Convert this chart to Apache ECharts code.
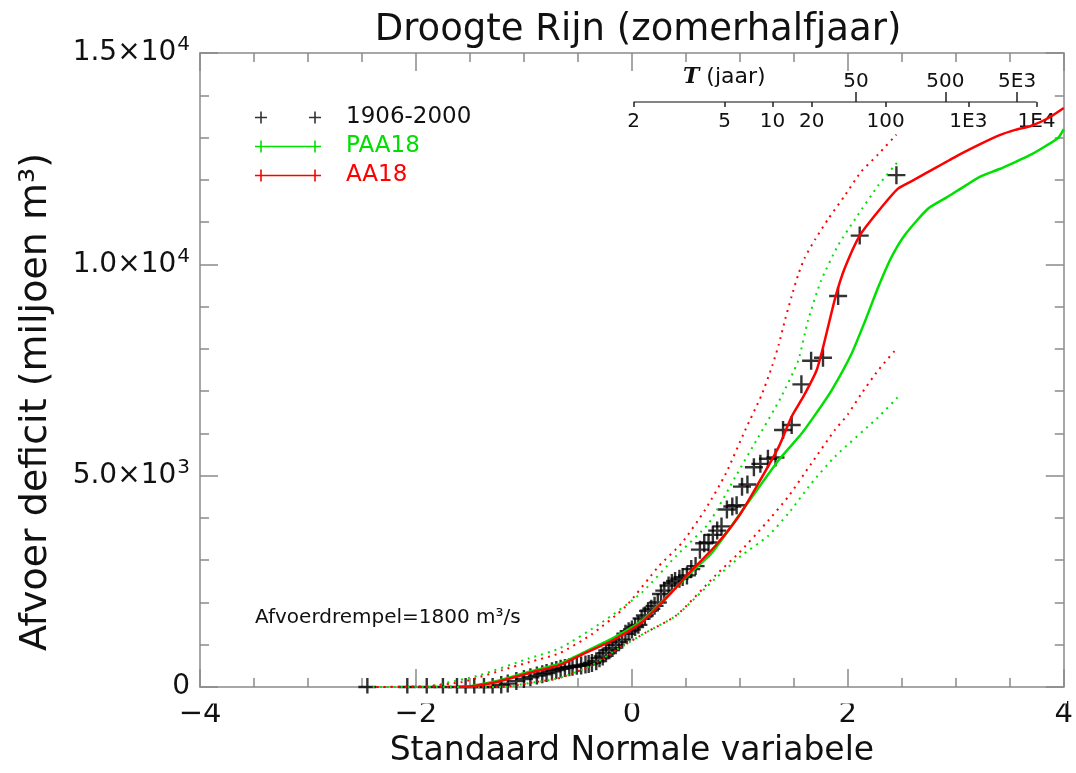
<!DOCTYPE html>
<html lang="nl">
<head>
<meta charset="utf-8">
<title>Droogte Rijn (zomerhalfjaar)</title>
<script src="https://cdn.jsdelivr.net/npm/echarts@6/dist/echarts.min.js"></script>
<style>
  html, body { margin: 0; padding: 0; background: #fff; }
  #main { width: 1076px; height: 773px; }
</style>
</head>
<body>
<div id="main"></div>
<script>
// waarnemingen 1906-2000 (standaard normale variabele, afvoerdeficit in miljoen m3)
var obs = [
  [-2.45,0],[-2.08,0],[-1.90,0],[-1.75,0],[-1.62,0],[-1.54,0],[-1.46,0],[-1.37,0],[-1.29,0],
  [-1.21,50],[-1.15,80],[-1.07,140],[-1.00,190],[-0.94,230],[-0.88,270],[-0.83,300],[-0.79,330],
  [-0.74,370],[-0.70,400],[-0.66,430],[-0.62,450],[-0.58,470],[-0.55,480],[-0.51,500],[-0.47,510],
  [-0.43,530],[-0.40,545],[-0.37,570],[-0.33,610],[-0.30,680],[-0.27,720],[-0.24,800],[-0.21,870],
  [-0.18,920],[-0.15,990],[-0.12,1060],[-0.09,1120],[-0.06,1260],[-0.03,1320],[0.00,1360],
  [0.03,1420],[0.06,1470],[0.09,1620],[0.12,1690],[0.15,1800],[0.18,1850],[0.21,1920],[0.24,2000],
  [0.27,2200],[0.30,2280],[0.34,2400],[0.37,2460],[0.40,2510],[0.44,2560],[0.47,2600],[0.51,2640],
  [0.55,2790],[0.59,2860],[0.63,3250],[0.67,3400],[0.71,3420],[0.75,3600],[0.79,3700],[0.83,3800],
  [0.88,4200],[0.93,4270],[0.97,4300],[1.02,4740],[1.07,4790],[1.13,5200],[1.19,5280],[1.26,5400],
  [1.33,5430],[1.40,6080],[1.48,6200],[1.57,7160],[1.66,7720],[1.77,7790],[1.91,9250],[2.11,10680],
  [2.45,12110]
];

var aa18 = [
  [-1.60,0],[-1.50,10],[-1.25,117],[-0.95,330],[-0.67,516],[-0.42,820],[-0.18,1100],[0.09,1525],
  [0.34,2160],[0.55,2750],[0.77,3330],[0.99,4040],[1.17,4810],[1.36,5680],[1.48,6400],[1.59,6880],
  [1.71,7490],[1.77,8030],[1.83,8660],[1.89,9270],[1.97,9900],[2.11,10680],[2.28,11250],[2.46,11780],
  [2.60,11980],[2.74,12180],[3.00,12550],[3.24,12860],[3.40,13050],[3.55,13180],[3.70,13280],
  [3.85,13450],[4.00,13700]
];
var aa18Upper = [
  [-2.40,0],[-1.90,20],[-1.57,117],[-1.41,235],[-1.20,400],[-0.95,590],[-0.67,800],[-0.37,1250],
  [-0.06,1900],[0.25,2860],[0.46,3400],[0.68,4200],[0.87,5050],[1.05,6080],[1.20,6900],[1.30,7600],
  [1.36,8100],[1.42,8700],[1.48,9250],[1.54,9750],[1.60,10150],[1.70,10600],[1.82,11080],[1.97,11620],
  [2.12,12180],[2.28,12600],[2.45,13070]
];
var aa18Lower = [
  [-2.40,0],[-1.20,0],[-0.95,94],[-0.67,211],[-0.37,516],[-0.12,915],[0.13,1290],[0.41,1690],
  [0.77,2630],[0.99,3170],[1.24,3870],[1.45,4510],[1.66,5280],[1.88,6080],[2.00,6450],[2.12,6920],
  [2.28,7490],[2.46,8030]
];

var paa18 = [
  [-1.60,0],[-1.50,20],[-1.25,140],[-0.95,360],[-0.67,550],[-0.42,850],[-0.18,1150],[0.09,1560],
  [0.34,2180],[0.55,2720],[0.74,3170],[1.05,4270],[1.36,5370],[1.57,5990],[1.70,6450],[1.85,7020],
  [2.03,7860],[2.16,8660],[2.28,9450],[2.40,10150],[2.53,10700],[2.74,11310],[2.92,11590],
  [3.10,11880],[3.24,12090],[3.40,12250],[3.55,12420],[3.70,12600],[3.84,12810],[3.95,13000],[4.00,13200]
];
var paa18Upper = [
  [-1.90,0],[-1.72,94],[-1.41,280],[-0.95,680],[-0.67,915],[-0.28,1525],[0.09,2230],[0.41,3100],
  [0.71,3870],[0.96,4980],[1.17,5910],[1.38,6850],[1.54,7720],[1.63,8660],[1.75,9600],[1.91,10450],
  [2.07,11080],[2.28,11860],[2.46,12420]
];
var paa18Lower = [
  [-2.40,0],[-1.20,0],[-0.95,94],[-0.67,211],[-0.37,516],[-0.12,915],[0.13,1290],[0.41,1690],
  [0.77,2560],[1.01,3100],[1.26,3570],[1.45,4110],[1.66,4810],[1.88,5450],[2.28,6380],[2.46,6850]
];

// terugkeertijd-as (T in jaar)
var tBottom = [2, 5, 10, 20, 100, 1000, 10000];
var tBottomLabels = ['2', '5', '10', '20', '100', '1E3', '1E4'];
var tTop = [50, 500, 5000];
var tTopLabels = ['50', '500', '5E3'];

// y-as labels
var yTicks = [0, 5000, 10000, 15000];
var yTickLabels = ['{a|0}', '{a|5.0×10}{s|3}', '{a|1.0×10}{s|4}', '{a|1.5×10}{s|4}'];

// inverse standaard normale verdeling (Acklam)
function probit(p) {
  var a = [-3.969683028665376e+01, 2.209460984245205e+02, -2.759285104469687e+02, 1.383577518672690e+02, -3.066479806614716e+01, 2.506628277459239e+00];
  var b = [-5.447609879822406e+01, 1.615858368580409e+02, -1.556989798598866e+02, 6.680131188771972e+01, -1.328068155288572e+01];
  var c = [-7.784894002430293e-03, -3.223964580411365e-01, -2.400758277161838e+00, -2.549732539343734e+00, 4.374664141464968e+00, 2.938163982698783e+00];
  var d = [7.784695709041462e-03, 3.224671290700398e-01, 2.445134137142996e+00, 3.754408661907416e+00];
  var pl = 0.02425, q, r;
  if (p < pl) {
    q = Math.sqrt(-2 * Math.log(p));
    return (((((c[0]*q+c[1])*q+c[2])*q+c[3])*q+c[4])*q+c[5]) / ((((d[0]*q+d[1])*q+d[2])*q+d[3])*q+1);
  }
  if (p <= 1 - pl) {
    q = p - 0.5; r = q * q;
    return (((((a[0]*r+a[1])*r+a[2])*r+a[3])*r+a[4])*r+a[5])*q / (((((b[0]*r+b[1])*r+b[2])*r+b[3])*r+b[4])*r+1);
  }
  q = Math.sqrt(-2 * Math.log(1 - p));
  return -(((((c[0]*q+c[1])*q+c[2])*q+c[3])*q+c[4])*q+c[5]) / ((((d[0]*q+d[1])*q+d[2])*q+d[3])*q+1);
}
function tToZ(T) { return probit(1 - 1 / T); }

var zBottom = tBottom.map(tToZ);
var zTop = tTop.map(tToZ);
function labelFor(zs, labels) {
  return function (v) {
    for (var i = 0; i < zs.length; i++) {
      if (Math.abs(zs[i] - v) < 1e-6) return labels[i];
    }
    return '';
  };
}

var FONT = 'DejaVu Sans';
var FRAME = '#8a8a8a';
var RED = '#ff0000';
var GREEN = '#00e000';

var frameAxis = {
  axisLine: { show: true, onZero: false, lineStyle: { color: FRAME, width: 1.5 } },
  axisTick: { show: true, inside: true, length: 18, lineStyle: { color: FRAME, width: 1.5 } },
  minorTick: { show: true, length: 9, lineStyle: { color: FRAME, width: 1.5 } },
  splitLine: { show: false }
};

function ext(base, more) { return Object.assign({}, base, more); }

// legenda-iconen: plusjes aan de uiteinden, met een onzichtbaar puntje rechts voor extra ruimte tot de tekst
var ICON_PLUS = 'path://M0,5.2h12v1.6h-12z M5.2,0h1.6v12h-1.6z M54,5.2h12v1.6h-12z M59.2,0h1.6v12h-1.6z M85.99,6h0.01v0.01h-0.01z';
var ICON_LINE = 'path://M0,5.2h66v1.6h-66z M5.2,0h1.6v12h-1.6z M59.2,0h1.6v12h-1.6z M85.99,6h0.01v0.01h-0.01z';

var chart = echarts.init(document.getElementById('main'));

var option = {
  backgroundColor: '#fff',
  animation: false,
  textStyle: { fontFamily: FONT },
  title: {
    text: 'Droogte Rijn (zomerhalfjaar)',
    left: 633, top: 7, textAlign: 'center',
    textStyle: { fontFamily: FONT, fontSize: 37, fontWeight: 'normal', color: '#111' }
  },
  legend: {
    orient: 'vertical',
    left: 250, top: 101,
    itemWidth: 86, itemHeight: 12, itemGap: 6,
    textStyle: { fontFamily: FONT, fontSize: 23 },
    itemStyle: { borderWidth: 0 },
    lineStyle: { width: 0 },
    data: [
      { name: '1906-2000', icon: ICON_PLUS, textStyle: { color: '#111' } },
      { name: 'PAA18', icon: ICON_LINE, textStyle: { color: GREEN } },
      { name: 'AA18', icon: ICON_LINE, textStyle: { color: RED } }
    ]
  },
  grid: [
    { left: 200, right: 9, top: 53, bottom: 81, show: false },
    { left: 200, right: 9, top: 102, height: 0, show: false }
  ],
  xAxis: [
    ext(frameAxis, {
      gridIndex: 0, type: 'value', min: -4, max: 4, interval: 2, position: 'bottom',
      minorTick: ext(frameAxis.minorTick, { splitNumber: 4 }),
      axisLabel: {
        color: '#111', fontSize: 29, margin: 13,
        formatter: function (v) { return v < 0 ? '\u2212' + (-v) : String(v); }
      },
      name: 'Standaard Normale variabele',
      nameLocation: 'middle', nameGap: 48,
      nameTextStyle: { color: '#111', fontSize: 33 }
    }),
    ext(frameAxis, {
      gridIndex: 0, type: 'value', min: -4, max: 4, interval: 2, position: 'top',
      minorTick: ext(frameAxis.minorTick, { splitNumber: 4 }),
      axisLabel: { show: false }
    }),
    {
      gridIndex: 1, type: 'value', min: -4, max: 4, position: 'bottom',
      axisLine: { show: false }, splitLine: { show: false },
      axisTick: { show: true, customValues: zBottom, length: 5, lineStyle: { color: '#222', width: 1.5 } },
      axisLabel: { customValues: zBottom, formatter: labelFor(zBottom, tBottomLabels), color: '#111', fontSize: 20, margin: 10 }
    },
    {
      gridIndex: 1, type: 'value', min: -4, max: 4, position: 'top',
      axisLine: { show: false }, splitLine: { show: false },
      axisTick: { show: true, customValues: zTop, length: 10, lineStyle: { color: '#222', width: 1.5 } },
      axisLabel: { customValues: zTop, formatter: labelFor(zTop, tTopLabels), color: '#111', fontSize: 20, margin: 10 }
    }
  ],
  yAxis: [
    ext(frameAxis, {
      gridIndex: 0, type: 'value', min: 0, max: 15000, interval: 5000, position: 'left',
      minorTick: ext(frameAxis.minorTick, { splitNumber: 5 }),
      axisLabel: {
        margin: 10,
        formatter: function (v) { return yTickLabels[yTicks.indexOf(v)]; },
        rich: {
          a: { fontFamily: FONT, fontSize: 28, color: '#111' },
          s: { fontFamily: FONT, fontSize: 20, color: '#111', verticalAlign: 'top', padding: [0, 0, 16, 1] }
        }
      }
    }),
    ext(frameAxis, {
      gridIndex: 0, type: 'value', min: 0, max: 15000, interval: 5000, position: 'right',
      minorTick: ext(frameAxis.minorTick, { splitNumber: 5 }),
      axisLabel: { show: false }
    }),
    { gridIndex: 1, type: 'value', min: 0, max: 1, show: false }
  ],
  graphic: [
    {
      // y-astitel
      type: 'text', x: 36, y: 402, rotation: Math.PI / 2,
      style: {
        text: 'Afvoer deficit (miljoen m\u00b3)', fill: '#111',
        font: '38px "DejaVu Sans"', align: 'center', verticalAlign: 'middle'
      }
    },
    {
      type: 'text', left: 683, top: 66,
      style: {
        text: '{i|T} (jaar)',
        fill: '#111',
        font: '22px "DejaVu Sans"',
        rich: { i: { fontFamily: 'DejaVu Serif', fontStyle: 'italic', fontWeight: 'bold', fontSize: 22, fill: '#111' } }
      }
    },
    {
      type: 'text', left: 255, top: 608,
      style: { text: 'Afvoerdrempel=1800 m\u00b3/s', fill: '#111', font: '20px "DejaVu Sans"' }
    },
    {
      // onderste helft van de plusjes op de x-as afdekken, zoals in het origineel
      type: 'rect', z: 100, silent: true,
      shape: { x: 201, y: 693.5, width: 866, height: 10 },
      style: { fill: '#fff' }
    }
  ],
  series: [
    {
      name: 'T-as', type: 'line', xAxisIndex: 2, yAxisIndex: 2, silent: true,
      data: [[tToZ(2), 0], [tToZ(10000), 0]],
      symbol: 'none', lineStyle: { color: '#222', width: 1.5 }
    },
    {
      name: 'PAA18-band-hoog', type: 'line', data: paa18Upper, symbol: 'none', smooth: 0.2, silent: true,
      lineStyle: { color: GREEN, width: 2, type: [2, 5] }
    },
    {
      name: 'PAA18-band-laag', type: 'line', data: paa18Lower, symbol: 'none', smooth: 0.2, silent: true,
      lineStyle: { color: GREEN, width: 2, type: [2, 5] }
    },
    {
      name: 'AA18-band-hoog', type: 'line', data: aa18Upper, symbol: 'none', smooth: 0.2, silent: true,
      lineStyle: { color: RED, width: 2, type: [2, 5], dashOffset: 3 }
    },
    {
      name: 'AA18-band-laag', type: 'line', data: aa18Lower, symbol: 'none', smooth: 0.2, silent: true,
      lineStyle: { color: RED, width: 2, type: [2, 5], dashOffset: 3 }
    },
    {
      name: 'PAA18', type: 'line', data: paa18, symbol: 'none', smooth: 0.2,
      color: GREEN, lineStyle: { color: GREEN, width: 2.5 }
    },
    {
      name: 'AA18', type: 'line', data: aa18, symbol: 'none', smooth: 0.2,
      color: RED, lineStyle: { color: RED, width: 2.5 }
    },
    {
      name: '1906-2000', type: 'scatter', data: obs,
      symbol: 'path://M0,7.8h18v2.4h-18z M7.8,0h2.4v18h-2.4z', symbolSize: 18,
      color: '#000', itemStyle: { color: '#000' }
    }
  ]
};

chart.setOption(option);
</script>
</body>
</html>
